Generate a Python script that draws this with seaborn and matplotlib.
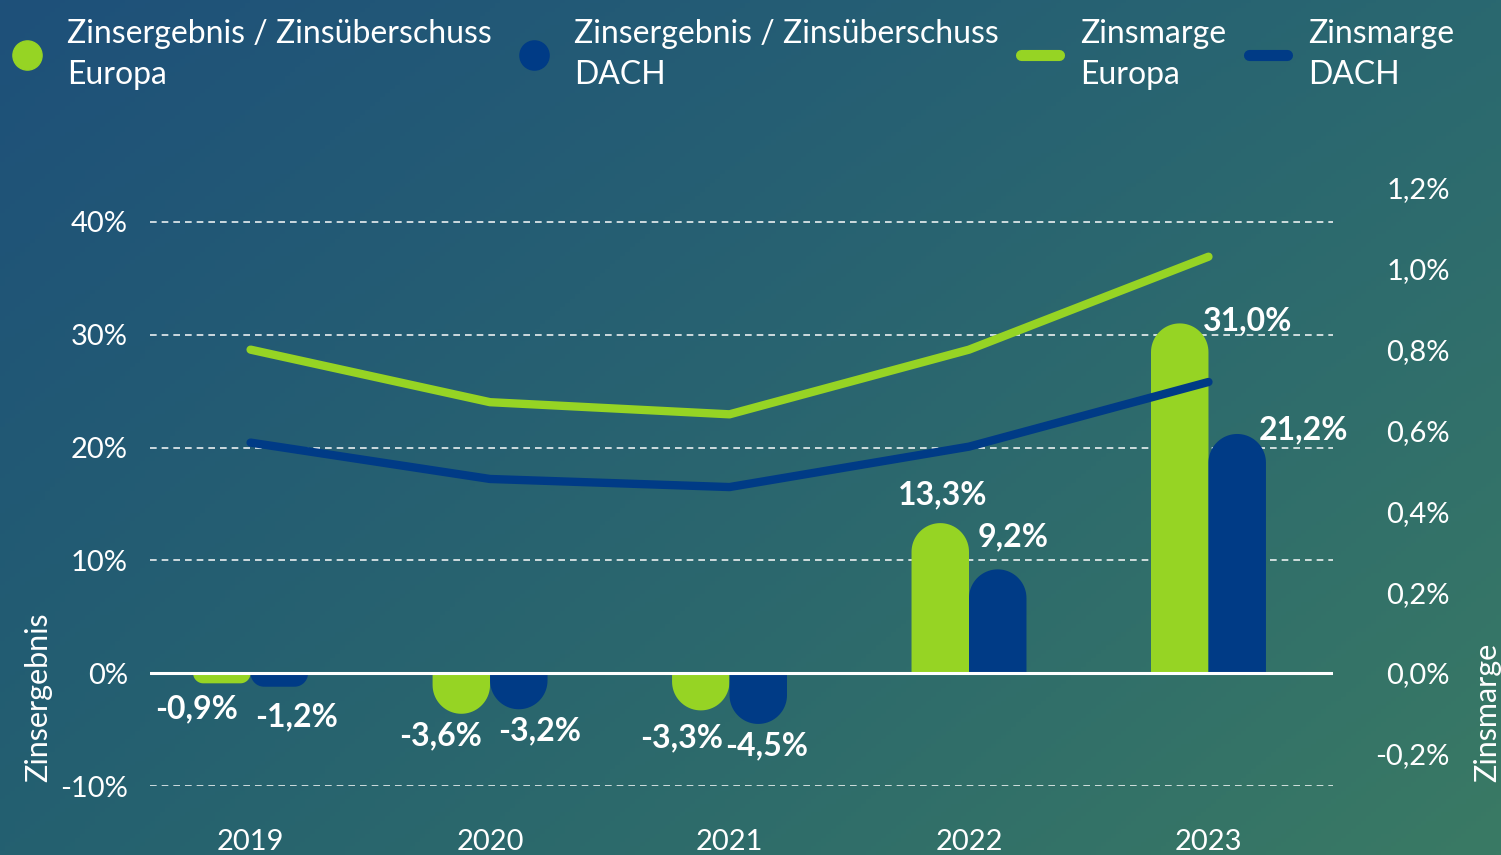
import numpy as np
import pandas as pd
import matplotlib
matplotlib.use("Agg")
import matplotlib.pyplot as plt
import seaborn as sns
from matplotlib.path import Path
from matplotlib.patches import PathPatch
from matplotlib.lines import Line2D

# ---------------- data ----------------
years = ["2019", "2020", "2021", "2022", "2023"]
ergebnis_europa = [-0.9, -3.6, -3.3, 13.3, 31.0]
ergebnis_dach = [-1.2, -3.2, -4.5, 9.2, 21.2]
marge_europa = [0.80, 0.67, 0.64, 0.80, 1.03]
marge_dach = [0.57, 0.48, 0.46, 0.56, 0.72]

left_ticks = [-10, 0, 10, 20, 30, 40]
right_ticks = [-0.2, 0.0, 0.2, 0.4, 0.6, 0.8, 1.0, 1.2]

series_names = ["Zinsergebnis / Zinsüberschuss\nEuropa",
                "Zinsergebnis / Zinsüberschuss\nDACH",
                "Zinsmarge\nEuropa",
                "Zinsmarge\nDACH"]

# label offsets in pixels (europa bars first, then dach bars)
label_offsets = [(-25, -25), (-21, -22), (-19, -27), (2, 28), (68, 3),
                 (17, -30), (21, -22), (8, -22), (15, 33), (66, 4)]

GREEN = "#96d424"
BLUE = "#003b86"
FONT = "Lato"

sns.set_theme(style="white")
plt.rcParams["font.family"] = [FONT, "DejaVu Sans"]
plt.rcParams["text.color"] = "white"

fig = plt.figure(figsize=(15.01, 8.55), dpi=100)

# ---- gradient background ----
bg = fig.add_axes([0, 0, 1, 1])
bg.set_zorder(0)
tl = np.array([30, 80, 122]) / 255
tr = np.array([42, 104, 112]) / 255
bl = np.array([36, 96, 112]) / 255
br = np.array([58, 122, 100]) / 255
u = np.linspace(0, 1, 300)[None, :, None]
v = np.linspace(0, 1, 200)[:, None, None]
grad = (1 - v) * ((1 - u) * tl + u * tr) + v * ((1 - u) * bl + u * br)
bg.imshow(grad, aspect="auto", extent=[0, 1, 0, 1], origin="upper")
bg.axis("off")

# ---- main axes ----
ax = fig.add_axes([150 / 1501, (855 - 786) / 855, (1333 - 150) / 1501, (786 - 188) / 855])
ax.set_zorder(1)
ax.patch.set_visible(False)

df = pd.DataFrame({
    "Jahr": years * 2,
    "Wert": ergebnis_europa + ergebnis_dach,
    "Serie": ["Europa"] * len(years) + ["DACH"] * len(years),
})
sns.barplot(data=df, x="Jahr", y="Wert", hue="Serie", palette=[GREEN, BLUE],
            width=0.48, gap=0, ax=ax, legend=False, saturation=1)

ax.set_ylim(-10, 43)
ax.set_xlim(-0.42, 4.52)
ax.set_yticks(left_ticks)
ax.set_yticklabels([f"{t}%" for t in left_ticks])
ax.set_xlabel("")
ax.set_ylabel("")
for s in ax.spines.values():
    s.set_visible(False)
ax.tick_params(axis="both", length=0, labelcolor="white", labelsize=21)
ax.tick_params(axis="x", pad=31)
ax.tick_params(axis="y", pad=16)
ax.yaxis.grid(True, color="white", linestyle=(0, (4, 3)), linewidth=1.2, alpha=0.9)
ax.set_axisbelow(True)
ax.axhline(0, color="white", linewidth=2.2, zorder=4)


# ---- rounded bar ends ----
def rounded_bar(axis, rect):
    x0, w, h = rect.get_x(), rect.get_width(), rect.get_height()
    p = axis.transData.transform([(0, 0), (1, 1)])
    sx, sy = p[1, 0] - p[0, 0], p[1, 1] - p[0, 1]
    r_px = min(w * sx / 2, abs(h) * sy)
    rx, ry = r_px / sx, r_px / sy
    s = 1 if h >= 0 else -1
    cy = h - s * ry
    t1 = np.linspace(np.pi, np.pi / 2, 20)
    t2 = np.linspace(np.pi / 2, 0, 20)
    pts = [(x0, 0), (x0, cy)]
    pts += [(x0 + rx + rx * np.cos(t), cy + s * ry * np.sin(t)) for t in t1]
    pts += [(x0 + w - rx + rx * np.cos(t), cy + s * ry * np.sin(t)) for t in t2]
    pts += [(x0 + w, 0), (x0, 0)]
    patch = PathPatch(Path(pts), facecolor=rect.get_facecolor(), edgecolor="none", zorder=2)
    rect.remove()
    axis.add_patch(patch)
    return x0 + w / 2, h


bars = list(ax.patches)
ends = [rounded_bar(ax, r) for r in bars]
for (xc, h), (dx, dy) in zip(ends, label_offsets):
    ax.annotate(f"{h:.1f}%".replace(".", ","), (xc, h), xytext=(dx, dy),
                textcoords="offset pixels", ha="center", va="center",
                color="white", fontsize=23, fontweight="bold", zorder=6)

# ---- margin lines on secondary axis ----
ax2 = ax.twinx()
pos = np.arange(len(years))
sns.lineplot(x=pos, y=marge_europa, color=GREEN, linewidth=6, ax=ax2)
sns.lineplot(x=pos, y=marge_dach, color=BLUE, linewidth=6, ax=ax2)
for ln in ax2.get_lines():
    ln.set_solid_capstyle("round")
    ln.set_solid_joinstyle("round")
ax2.set_ylim(-0.2797, 1.2)
ax2.set_yticks(right_ticks)
ax2.set_yticklabels([f"{t:.1f}%".replace(".", ",") for t in right_ticks])
for lbl in ax2.get_yticklabels():
    lbl.set_horizontalalignment("right")
for s in ax2.spines.values():
    s.set_visible(False)
ax2.tick_params(axis="y", length=0, labelcolor="white", labelsize=21, pad=84)
ax2.grid(False)

# ---- axis titles ----
fig.text(38 / 1501, 1 - 697 / 855, "Zinsergebnis", rotation=90, ha="center",
         va="center", fontsize=22, color="white")
fig.text(1487 / 1501, 1 - 712 / 855, "Zinsmarge", rotation=90, ha="center",
         va="center", fontsize=22, color="white")

# ---- legend ----
handles = [
    Line2D([], [], marker="o", linestyle="none", markersize=21, color=GREEN),
    Line2D([], [], marker="o", linestyle="none", markersize=21, color=BLUE),
    Line2D([], [], color=GREEN, linewidth=8, solid_capstyle="round"),
    Line2D([], [], color=BLUE, linewidth=8, solid_capstyle="round"),
]
leg = fig.legend(handles, series_names, loc="upper left",
                 bbox_to_anchor=(8 / 1501, 1 - 19 / 855),
                 ncol=4, frameon=False, fontsize=23, labelcolor="white",
                 handlelength=1.2, handletextpad=0.66, columnspacing=0.7,
                 borderpad=0, borderaxespad=0)
for t in leg.get_texts():
    t.set_linespacing(1.45)

fig.savefig("out.png", dpi=100)
